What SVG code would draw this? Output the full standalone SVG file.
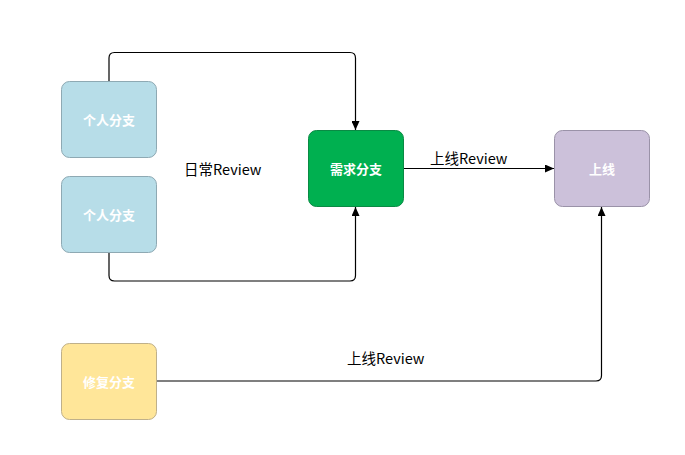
<svg xmlns="http://www.w3.org/2000/svg" width="685" height="455" viewBox="0 0 685 455">
<style>
.node{stroke-width:1}
.nt{font-family:"Noto Sans CJK SC","Microsoft YaHei",sans-serif;font-size:13px;font-weight:bold;fill:#ffffff;text-anchor:middle;dominant-baseline:central}
.lbl{font-family:"Noto Sans CJK SC","Microsoft YaHei",sans-serif;font-size:14.5px;fill:#000000;dominant-baseline:central}
.conn{fill:none;stroke:#000000;stroke-width:1.2}
</style>
<defs>
<marker id="arr" markerWidth="10" markerHeight="8" refX="9" refY="4" orient="auto" markerUnits="userSpaceOnUse">
<path d="M0,0 L9,4 L0,8 Z" fill="#000000"/>
</marker>
</defs>
<rect width="685" height="455" fill="#ffffff"/>
<g id="connectors">
<path class="conn" d="M109,81.5 V58 Q109,52.5 114.5,52.5 H350 Q355.5,52.5 355.5,58 V130" marker-end="url(#arr)"/>
<path class="conn" d="M109,252.5 V275.5 Q109,281 114.5,281 H350 Q355.5,281 355.5,275.5 V207" marker-end="url(#arr)"/>
<path class="conn" d="M403.5,168.5 H554" marker-end="url(#arr)"/>
<path class="conn" d="M156.5,381 H596 Q601.5,381 601.5,375.5 V207" marker-end="url(#arr)"/>
</g>
<g id="personal1">
<rect class="node" x="61.5" y="81.5" width="95" height="76" rx="8" fill="#b7dde8" stroke="#8ea9b3"/>
<text class="nt" x="109" y="119.5">个人分支</text>
</g>
<g id="personal2">
<rect class="node" x="61.5" y="176.5" width="95" height="76" rx="8" fill="#b7dde8" stroke="#8ea9b3"/>
<text class="nt" x="109" y="214.5">个人分支</text>
</g>
<g id="req">
<rect class="node" x="308.5" y="130.5" width="95" height="76" rx="8" fill="#00b050" stroke="#0a8a44"/>
<text class="nt" x="356" y="168.5">需求分支</text>
</g>
<g id="online">
<rect class="node" x="554.5" y="130.5" width="95" height="76" rx="8" fill="#ccc1da" stroke="#9a92a8"/>
<text class="nt" x="602" y="168.5">上线</text>
</g>
<g id="fix">
<rect class="node" x="61.5" y="343.5" width="95" height="76" rx="8" fill="#ffe699" stroke="#bfb08a"/>
<text class="nt" x="109" y="381.5">修复分支</text>
</g>
<g id="labels">
<text class="lbl" x="184" y="168.5">日常Review</text>
<text class="lbl" x="430" y="157">上线Review</text>
<text class="lbl" x="347" y="357">上线Review</text>
</g>
</svg>
